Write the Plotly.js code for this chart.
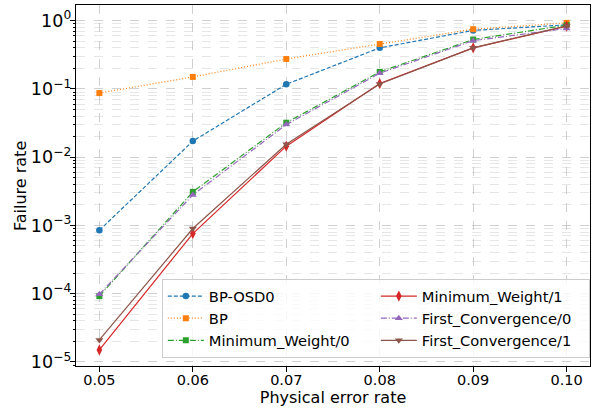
<!DOCTYPE html>
<html><head><meta charset="utf-8">
<script src="https://cdn.plot.ly/plotly-3.0.1.min.js"></script>
<style>html,body{margin:0;padding:0;background:#fff}#chart{width:600px;height:412px}</style>
</head><body><div id="chart"></div>
<script>
const errorRates = [0.05, 0.06, 0.07, 0.08, 0.09, 0.10];
const bpOsd0 = [8.5e-4, 0.0172, 0.117, 0.40, 0.72, 0.87];
const bp = [0.087, 0.150, 0.275, 0.455, 0.75, 0.93];
const minWeight0 = [9.2e-5, 3.1e-3, 0.032, 0.178, 0.53, 0.86];
const minWeight1 = [1.5e-5, 7.6e-4, 0.0145, 0.120, 0.40, 0.83];
const firstConv0 = [9.8e-5, 2.8e-3, 0.030, 0.170, 0.51, 0.77];
const firstConv1 = [2.1e-5, 9.0e-4, 0.0155, 0.118, 0.40, 0.84];
const xTickVals = [0.05, 0.06, 0.07, 0.08, 0.09, 0.10];
const xTickText = ['0.05', '0.06', '0.07', '0.08', '0.09', '0.10'];
const xTitle = 'Physical error rate';
const yTitle = 'Failure rate';

const F = '"DejaVu Sans", sans-serif';
function tr(name, y, color, dash, symbol, rank, msize) {
  return {x: errorRates, y: y, name: name, type: 'scatter', mode: 'lines+markers',
    line: {color: color, width: 1.2, dash: dash},
    marker: {color: color, symbol: symbol, size: msize || 6.5, line: {width: 0}},
    legendrank: rank};
}
const data = [
  tr('BP-OSD0', bpOsd0, '#1f77b4', '4px,2px', 'circle', 1),
  tr('BP', bp, '#ff7f0e', '1px,2px', 'square', 3, 6),
  tr('Minimum_Weight/0', minWeight0, '#2ca02c', '6px,2px,1px,2px', 'square', 5, 6),
  tr('Minimum_Weight/1', minWeight1, '#d62728', 'solid', 'diamond-tall', 2, 8),
  tr('First_Convergence/0', firstConv0, '#9467bd', '6px,2px,1px,2px', 'triangle-up', 4, 7),
  tr('First_Convergence/1', firstConv1, '#8c564b', 'solid', 'triangle-down', 6, 7)
];
const gridMajor = 'rgba(176,176,176,0.6)';
const gridMinor = 'rgba(176,176,176,0.4)';
const layout = {
  width: 600, height: 412,
  margin: {l: 76, r: 10, t: 5, b: 46, autoexpand: false},
  paper_bgcolor: '#fff', plot_bgcolor: '#fff',
  font: {family: F, size: 14, color: '#000'},
  showlegend: true,
  legend: {orientation: 'h', x: 0.167, y: 0.022, xanchor: 'left', yanchor: 'bottom',
    bgcolor: 'rgba(255,255,255,0.8)', bordercolor: '#cccccc', borderwidth: 1,
    itemwidth: 36, entrywidth: 162, font: {family: F, size: 14.7}, traceorder: 'normal'},
  annotations: [{text: yTitle, xref: 'paper', yref: 'paper', x: -0.108, y: 0.5,
    xanchor: 'center', yanchor: 'middle', textangle: -90, showarrow: false,
    font: {family: F, size: 16, color: '#000'}}],
  xaxis: {range: [0.0475, 0.1025], tickmode: 'array', tickvals: xTickVals, ticktext: xTickText,
    showline: true, mirror: true, linecolor: '#000', linewidth: 1,
    ticks: 'outside', ticklen: 5, tickcolor: '#000', ticklabelstandoff: -4,
    showgrid: true, gridcolor: gridMajor, griddash: 'dash', gridwidth: 1, zeroline: false,
    title: {text: xTitle, font: {family: F, size: 16}, standoff: 2},
    tickfont: {family: F, size: 14.5}},
  yaxis: {type: 'log', range: [-5.06, 0.23], tickmode: 'linear', tick0: 0, dtick: 1,
    exponentformat: 'power', labelalias: {'1': '10<sup>0</sup>'},
    showline: true, mirror: true, linecolor: '#000', linewidth: 1,
    ticks: 'outside', ticklen: 5, tickcolor: '#000', ticklabelstandoff: -4,
    showgrid: true, gridcolor: gridMajor, griddash: 'dash', gridwidth: 1, zeroline: false,
    minor: {dtick: 'D1', showgrid: true, gridcolor: gridMinor, griddash: 'dash', gridwidth: 0.8,
      ticks: 'outside', ticklen: 2.5, tickcolor: '#000'},
    tickfont: {family: F, size: 14}}
};
Plotly.newPlot('chart', data, layout, {displayModeBar: false, staticPlot: true});
</script></body></html>
